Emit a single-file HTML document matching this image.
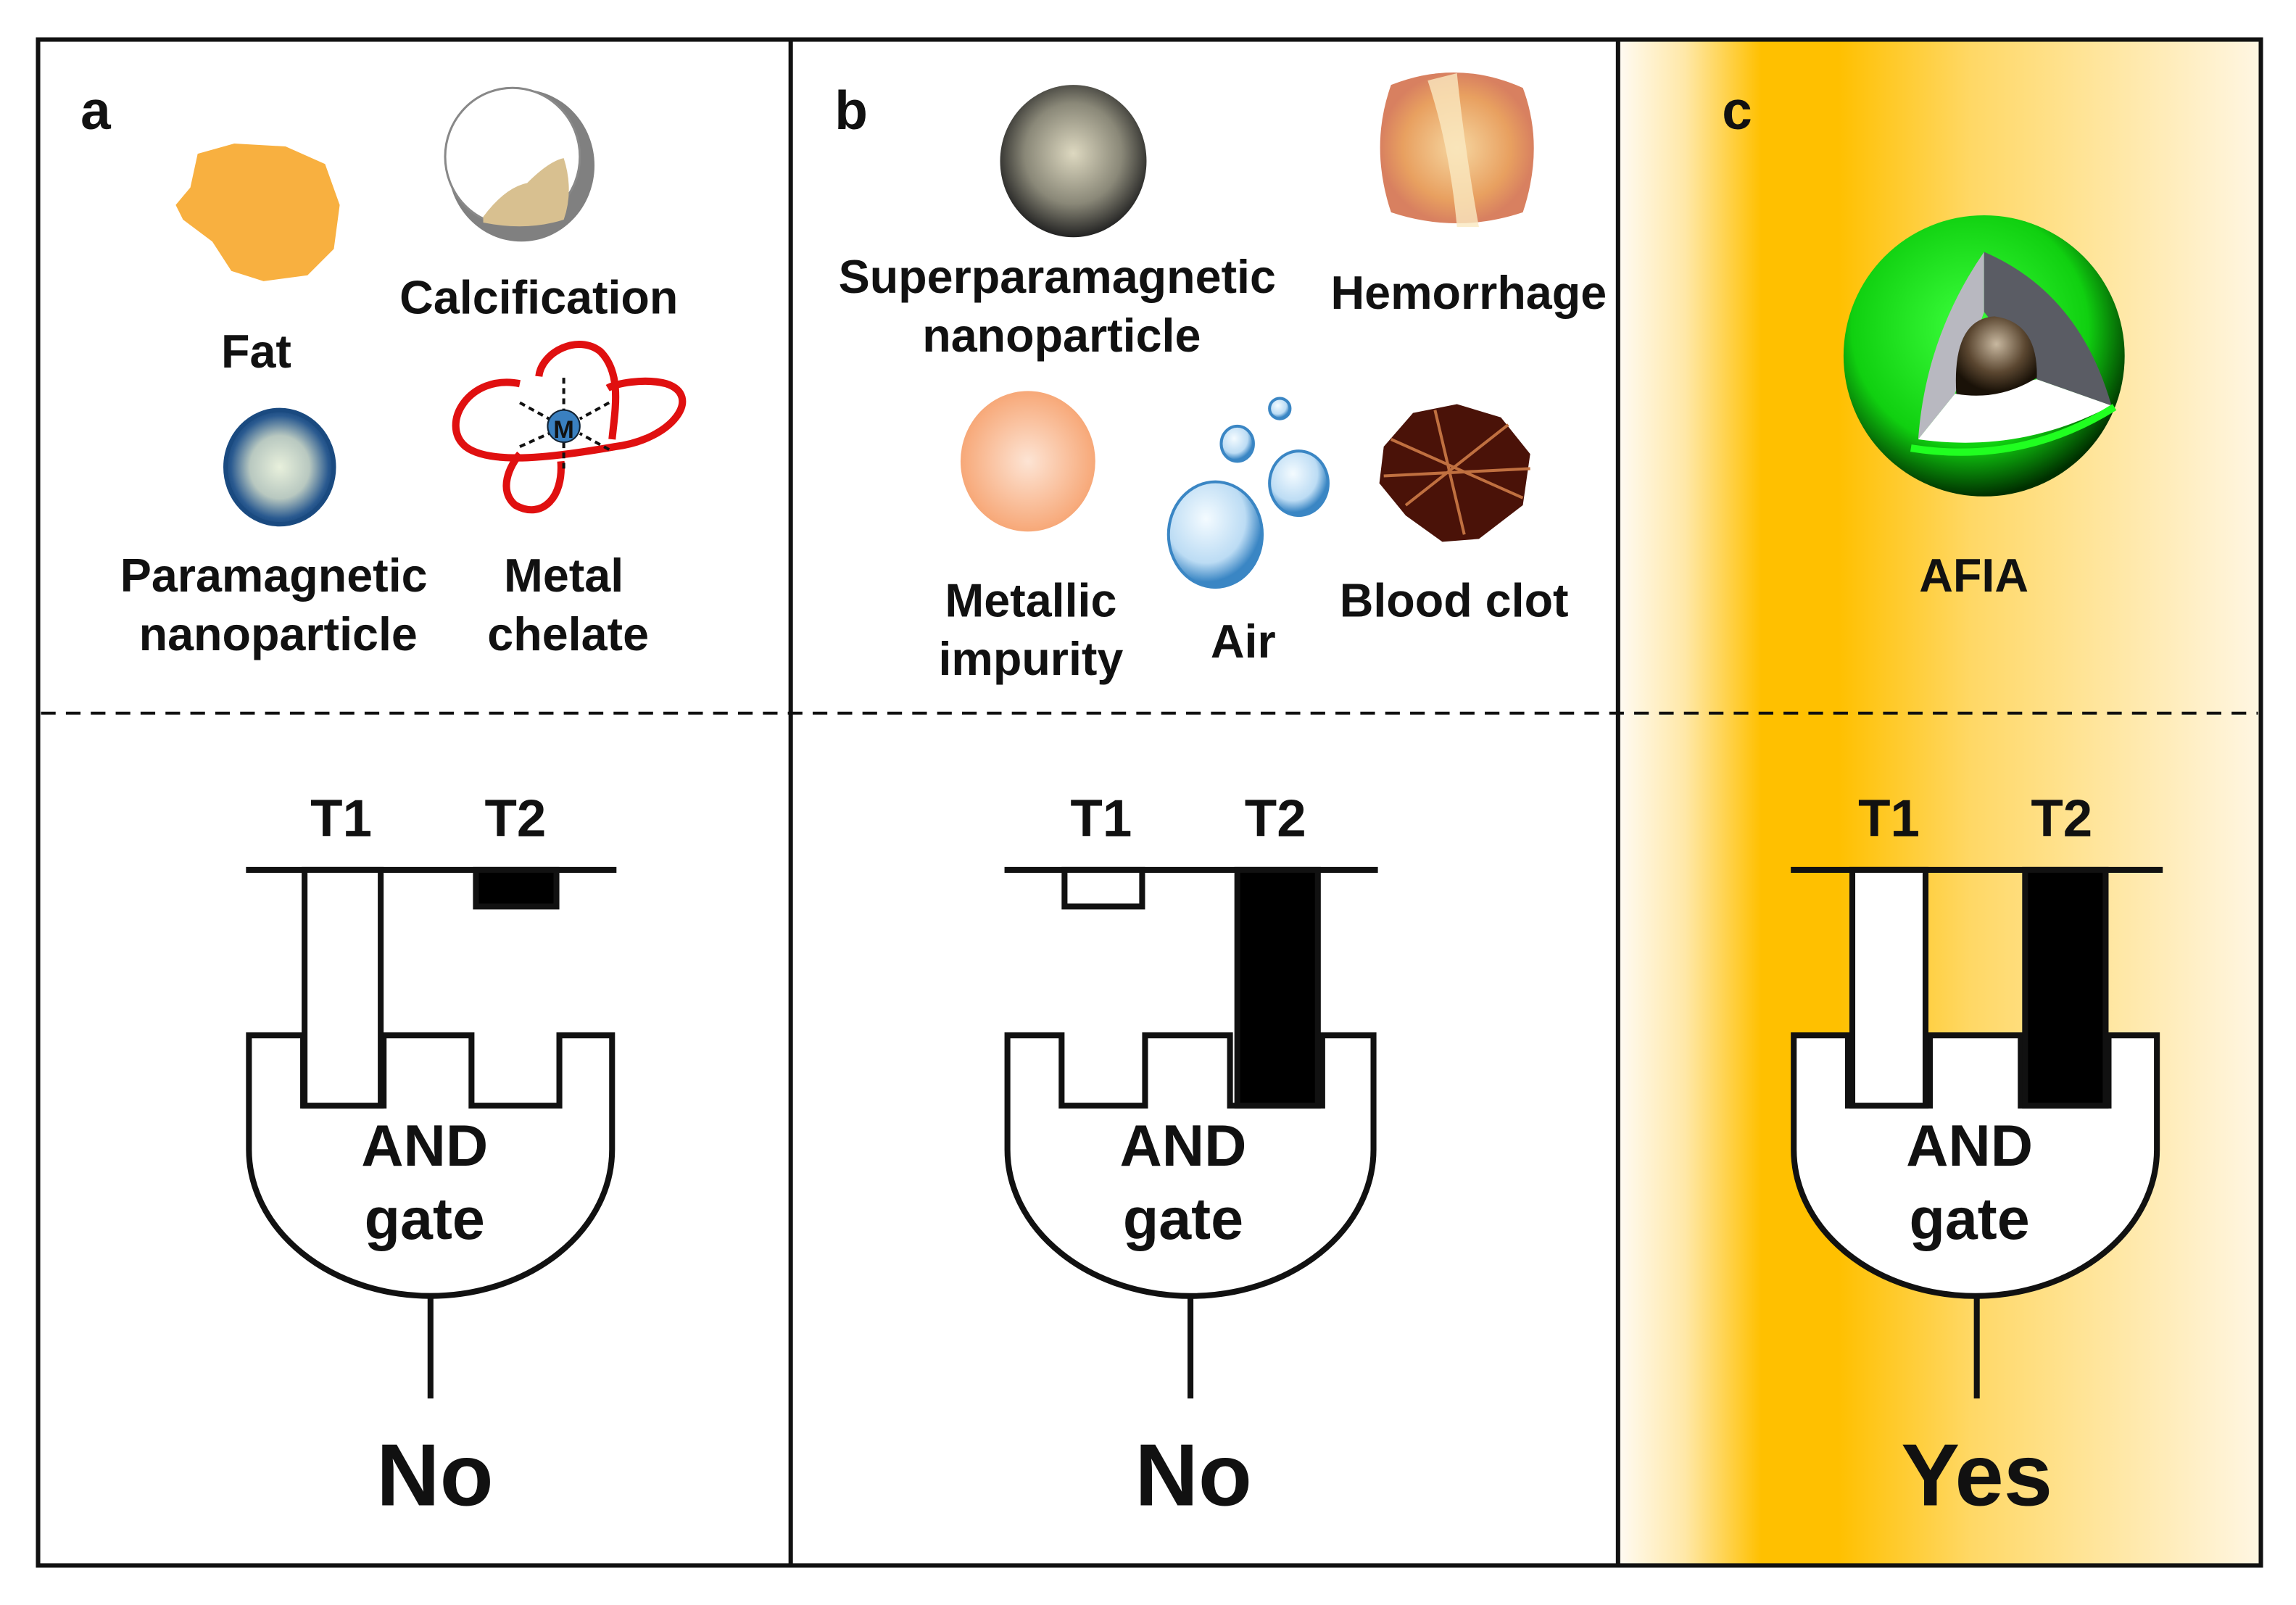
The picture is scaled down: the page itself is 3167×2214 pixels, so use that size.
<!DOCTYPE html>
<html><head><meta charset="utf-8"><style>
html,body{margin:0;padding:0;background:#fff;}
svg{display:block;}
text{font-family:"Liberation Sans",Arial,sans-serif;font-weight:bold;fill:#111;}
</style></head><body>
<svg width="3167" height="2214" viewBox="0 0 1568 1096" preserveAspectRatio="none" xmlns="http://www.w3.org/2000/svg">
<defs>
<linearGradient id="cg" x1="1107" y1="0" x2="1543" y2="0" gradientUnits="userSpaceOnUse">
<stop offset="0" stop-color="#fffaf0"/><stop offset="0.1" stop-color="#ffe8a8"/><stop offset="0.22" stop-color="#ffc000"/><stop offset="0.34" stop-color="#ffc000"/><stop offset="0.55" stop-color="#ffd866"/><stop offset="1" stop-color="#fff6e2"/>
</linearGradient>
<radialGradient id="pm" cx="0.5" cy="0.5" r="0.5"><stop offset="0" stop-color="#e8f0dc"/><stop offset="0.55" stop-color="#b8c8c0"/><stop offset="0.9" stop-color="#2a5a90"/><stop offset="1" stop-color="#1a4a80"/></radialGradient>
<radialGradient id="sp" cx="0.5" cy="0.45" r="0.55"><stop offset="0" stop-color="#ddd8c0"/><stop offset="0.6" stop-color="#8a8878"/><stop offset="1" stop-color="#222"/></radialGradient>
<radialGradient id="mi" cx="0.5" cy="0.5" r="0.5"><stop offset="0" stop-color="#fde4d4"/><stop offset="1" stop-color="#f7a878"/></radialGradient>
<radialGradient id="air" cx="0.4" cy="0.35" r="0.6"><stop offset="0" stop-color="#f4fbff"/><stop offset="0.7" stop-color="#bcdcf4"/><stop offset="1" stop-color="#3a86c4"/></radialGradient>
<radialGradient id="gr" cx="0.45" cy="0.4" r="0.6"><stop offset="0" stop-color="#3cff3c"/><stop offset="0.7" stop-color="#10d010"/><stop offset="1" stop-color="#003000"/></radialGradient>
<radialGradient id="core" cx="0.5" cy="0.35" r="0.6"><stop offset="0" stop-color="#c8b8a0"/><stop offset="0.6" stop-color="#5a4630"/><stop offset="1" stop-color="#1a1208"/></radialGradient>
<radialGradient id="hem" cx="0.5" cy="0.5" r="0.5"><stop offset="0" stop-color="#f6d6a0"/><stop offset="0.7" stop-color="#e8a060"/><stop offset="1" stop-color="#d88060"/></radialGradient>
</defs>

<rect x="1106" y="27" width="438" height="1042" fill="url(#cg)"/>

<rect x="26" y="27" width="1518" height="1042" fill="none" stroke="#111" stroke-width="3"/>
<line x1="540" y1="27" x2="540" y2="1069" stroke="#111" stroke-width="3"/>
<line x1="1105" y1="27" x2="1105" y2="1069" stroke="#111" stroke-width="3"/>
<line x1="28" y1="487" x2="1542" y2="487" stroke="#111" stroke-width="2" stroke-dasharray="10,7"/>

<text x="55" y="88" font-size="37">a</text>
<text x="570" y="88" font-size="37">b</text>
<text x="1176" y="88" font-size="37">c</text>

<path d="M135,105 L160,98 L195,100 L222,112 L232,140 L228,170 L210,188 L180,192 L158,185 L145,165 L125,150 L120,140 L130,128 Z" fill="#f8b040"/>
<ellipse cx="356" cy="113" rx="50" ry="52" fill="#808080"/>
<ellipse cx="350" cy="107" rx="46" ry="47" fill="#fff" stroke="#888" stroke-width="1.5"/>
<path d="M330,148 Q345,128 360,125 Q375,110 385,108 Q392,130 385,150 Q360,158 330,152 Z" fill="#d8c090"/>
<ellipse cx="191" cy="319" rx="37" ry="39" fill="url(#pm)" stroke="#1a4a80" stroke-width="3"/>
<g fill="none" stroke="#e01010" stroke-width="5">
<path d="M355,262 C320,255 300,290 318,305 C335,318 380,312 420,305 C460,300 480,270 455,262 C440,258 420,262 415,265"/>
<path d="M368,257 C370,240 395,228 410,240 C425,255 420,280 418,300"/>
<path d="M383,315 C385,340 370,355 352,345 C340,335 348,318 355,310"/>
</g>
<g stroke="#111" stroke-width="2" stroke-dasharray="4,3">
<line x1="385" y1="258" x2="385" y2="280"/><line x1="385" y1="320" x2="385" y2="302"/>
<line x1="355" y1="275" x2="375" y2="286"/><line x1="416" y1="275" x2="396" y2="286"/>
<line x1="355" y1="305" x2="375" y2="296"/><line x1="416" y1="307" x2="396" y2="296"/>
</g>
<circle cx="385" cy="291" r="11" fill="#3a80c0" stroke="#123" stroke-width="1"/>
<text x="385" y="299" font-size="17" text-anchor="middle">M</text>

<g font-size="32" text-anchor="middle">
<text x="368" y="214">Calcification</text>
<text x="175" y="251">Fat</text>
<text x="187" y="404">Paramagnetic</text>
<text x="190" y="444">nanoparticle</text>
<text x="385" y="404">Metal</text>
<text x="388" y="444">chelate</text>
</g>

<ellipse cx="733" cy="110" rx="50" ry="52" fill="url(#sp)"/>
<path d="M950,58 Q995,40 1040,60 Q1055,100 1040,145 Q995,160 950,145 Q935,100 950,58 Z" fill="url(#hem)"/>
<path d="M975,55 Q990,100 995,155 L1010,155 Q1000,100 995,50 Z" fill="#fae8c0" opacity="0.8"/>
<ellipse cx="702" cy="315" rx="46" ry="48" fill="url(#mi)"/>
<ellipse cx="830" cy="365" rx="32" ry="36" fill="url(#air)" stroke="#3a86c4" stroke-width="2"/>
<ellipse cx="887" cy="330" rx="20" ry="22" fill="url(#air)" stroke="#3a86c4" stroke-width="2"/>
<ellipse cx="845" cy="303" rx="11" ry="12" fill="url(#air)" stroke="#3a86c4" stroke-width="2"/>
<ellipse cx="874" cy="279" rx="7" ry="7" fill="url(#air)" stroke="#3a86c4" stroke-width="2"/>
<path d="M945,305 L965,282 L995,276 L1025,285 L1045,310 L1040,345 L1010,368 L985,370 L960,352 L942,330 Z" fill="#4a1208"/>
<path d="M950,300 L1040,340 M960,345 L1030,290 M980,280 L1000,365 M945,325 L1045,320" stroke="#c07040" stroke-width="2" fill="none"/>

<g font-size="32" text-anchor="middle">
<text x="722" y="200">Superparamagnetic</text>
<text x="725" y="240">nanoparticle</text>
<text x="1003" y="211">Hemorrhage</text>
<text x="704" y="421">Metallic</text>
<text x="704" y="461">impurity</text>
<text x="849" y="449">Air</text>
<text x="993" y="421">Blood clot</text>
<text x="1348" y="404">AFIA</text>
</g>

<circle cx="1355" cy="243" r="96" fill="url(#gr)"/>
<path d="M1355,172 L1355,213 L1335,269 L1310,300 Q1315,230 1355,172 Z" fill="#b8b8c0"/>
<path d="M1355,172 Q1420,200 1442,277 L1391,259 L1355,213 Z" fill="#5a5c64"/>
<path d="M1310,300 L1335,269 L1391,259 L1442,277 Q1380,310 1310,300 Z" fill="#fff"/>
<path d="M1336,269 Q1333,218 1362,216 Q1392,220 1391,258 Q1365,274 1336,269 Z" fill="url(#core)"/>
<path d="M1305,306 Q1380,318 1444,278" fill="none" stroke="#20ff20" stroke-width="5"/>

<g stroke="#111" stroke-width="4">
<path d="M170,707 H207 V755 H262 V707 H322 V755 H382 V707 H418 V785 A124,100 0 0 1 170,785 Z" fill="#fff"/>
<line x1="168" y1="594" x2="421" y2="594"/>
<rect x="208" y="594" width="52" height="161" fill="#fff"/>
<rect x="325" y="594" width="55" height="25" fill="#000"/>
<line x1="294" y1="885" x2="294" y2="955"/>
<path d="M688,707 H725 V755 H782 V707 H840 V755 H903 V707 H938 V785 A125,100 0 0 1 688,785 Z" fill="#fff"/>
<line x1="686" y1="594" x2="941" y2="594"/>
<rect x="727" y="594" width="53" height="25" fill="#fff"/>
<rect x="845" y="594" width="55" height="161" fill="#000"/>
<line x1="813" y1="885" x2="813" y2="955"/>
<path d="M1225,707 H1262 V755 H1318 V707 H1380 V755 H1440 V707 H1473 V785 A124,100 0 0 1 1225,785 Z" fill="#fff"/>
<line x1="1223" y1="594" x2="1477" y2="594"/>
<rect x="1265" y="594" width="50" height="161" fill="#fff"/>
<rect x="1383" y="594" width="55" height="161" fill="#000"/>
<line x1="1350" y1="885" x2="1350" y2="955"/>
</g>
<g font-size="36" text-anchor="middle">
<text x="233" y="571">T1</text><text x="352" y="571">T2</text>
<text x="752" y="571">T1</text><text x="871" y="571">T2</text>
<text x="1290" y="571">T1</text><text x="1408" y="571">T2</text>
</g>
<g font-size="40" text-anchor="middle">
<text x="290" y="796">AND</text><text x="290" y="846">gate</text>
<text x="808" y="796">AND</text><text x="808" y="846">gate</text>
<text x="1345" y="796">AND</text><text x="1345" y="846">gate</text>
</g>
<g font-size="60" text-anchor="middle">
<text x="297" y="1028">No</text>
<text x="815" y="1028">No</text>
<text x="1350" y="1028">Yes</text>
</g>
</svg>
</body></html>
